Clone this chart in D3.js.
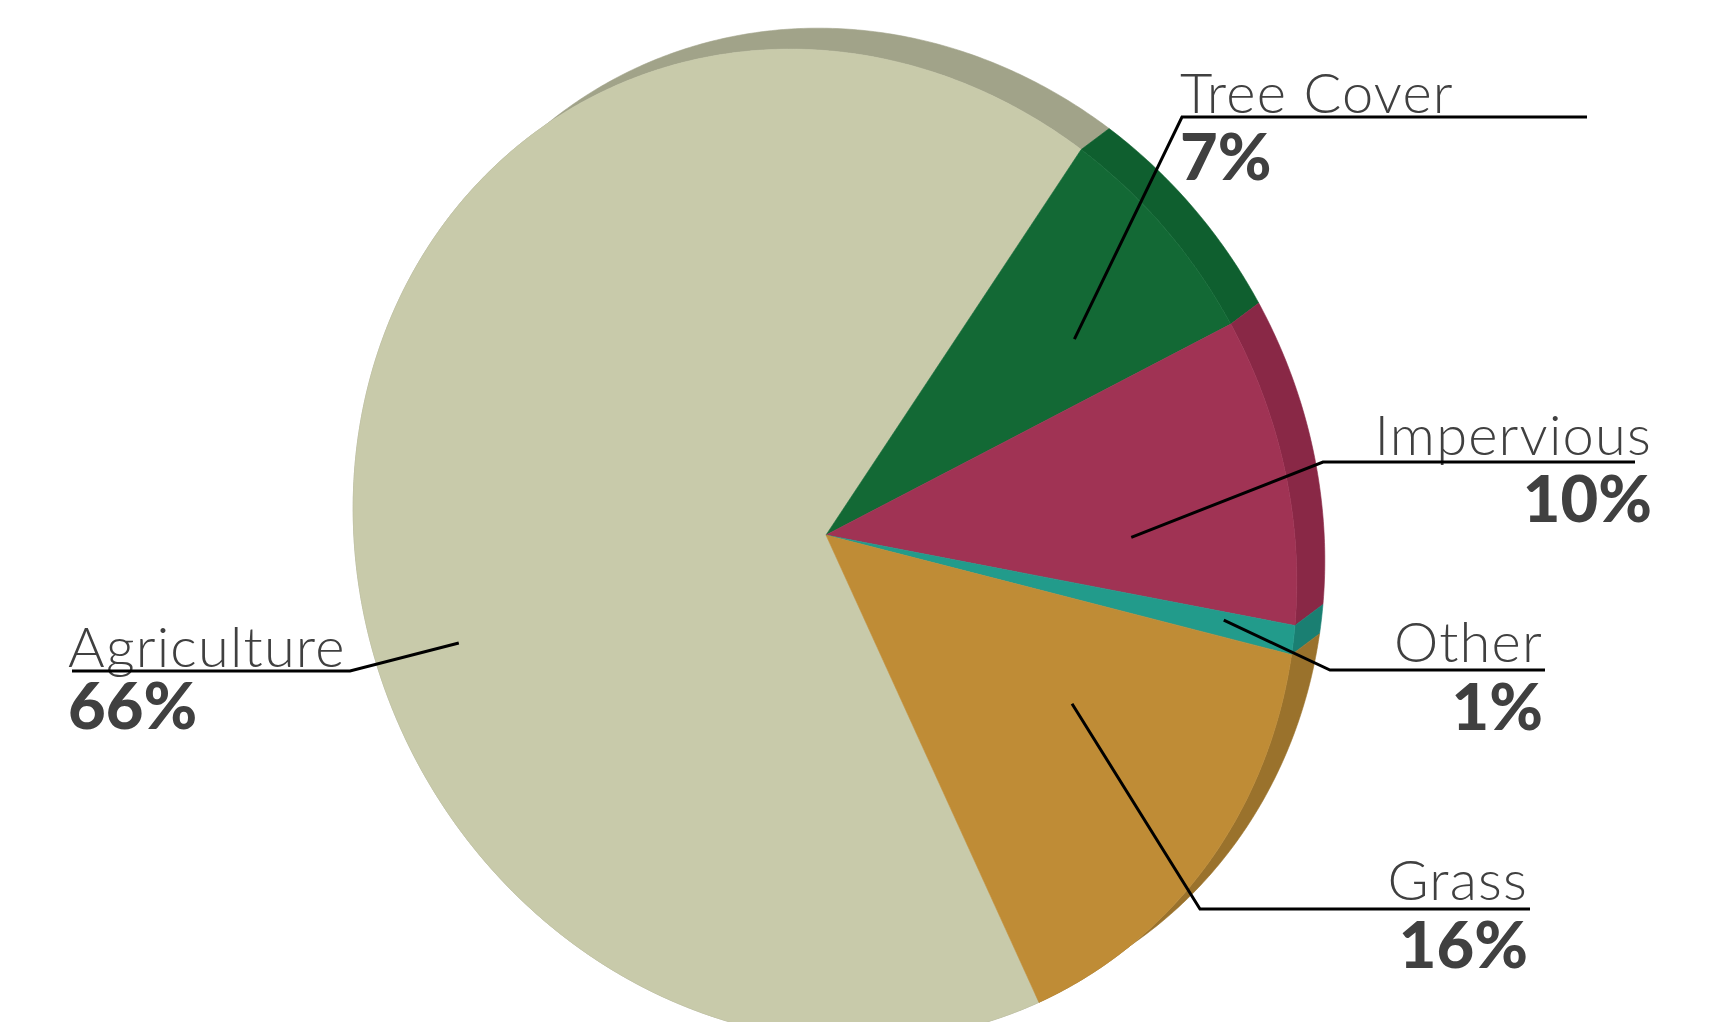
<!DOCTYPE html>
<html>
<head>
<meta charset="utf-8">
<script src="https://cdn.jsdelivr.net/npm/d3@7"></script>
<style>
  body { margin: 0; background: #fff; }
  svg { display: block; }
  .label { font-family: Lato, 'Open Sans', sans-serif; font-weight: 300; font-size: 56px; letter-spacing: 1.2px; fill: #404040; }
  .pct { font-family: Lato, 'Open Sans', sans-serif; font-weight: 900; font-size: 65px; fill: #404040; }
</style>
</head>
<body>
<svg id="chart" width="1723" height="1022"></svg>
<script>
// land cover shares, in drawing order (clockwise)
const categories = ['Agriculture', 'Tree Cover', 'Impervious', 'Other', 'Grass'];
const shares = [66, 7, 10, 1, 16];
const percentLabels = ['66%', '7%', '10%', '1%', '16%'];
const topColors = ['#c8caaa', '#136935', '#a03354', '#229b8b', '#bf8c36'];
const sideColors = ['#a1a389', '#0f5f2f', '#892846', '#1a7f72', '#9a722c'];

// where each callout sits (text anchor, baselines, leader elbow) and where the leader touches its slice
const callouts = [
  { x: 68,   anchor: 'start', labelY: 667, pctY: 729, lineY: 671, elbowX: 350,  endX: 72,   f: 0.39, rho: 0.82 },
  { x: 1180, anchor: 'start', labelY: 113, pctY: 180, lineY: 117, elbowX: 1182, endX: 1587, f: 0.63, rho: 0.69 },
  { x: 1652, anchor: 'end',   labelY: 455, pctY: 522, lineY: 462, elbowX: 1323, endX: 1635, f: 0.71, rho: 0.65 },
  { x: 1543, anchor: 'end',   labelY: 662, pctY: 730, lineY: 670, elbowX: 1330, endX: 1545, f: 0.33, rho: 0.85 },
  { x: 1528, anchor: 'end',   labelY: 900, pctY: 968, lineY: 909, elbowX: 1200, endX: 1530, f: 0.38, rho: 0.60 }
];

// tilted-disc projection: the rim of the disc is an ellipse, its centre lands on the apex
const apex = [826, 535];
const ell = { cx: 825, cy: 545, a: 505, b: 462, rot: 62 * Math.PI / 180 };
const depth = [28, -21];
const firstCut = 33.5 * Math.PI / 180; // on-screen direction of the Agriculture / Tree Cover edge
const skew = { amount: 2.2 * Math.PI / 180, at: 34 * Math.PI / 180 }; // slight angular foreshortening

const cosR = Math.cos(ell.rot), sinR = Math.sin(ell.rot);
function toUnit([x, y]) {
  const dx = x - ell.cx, dy = y - ell.cy;
  return [(dx * cosR + dy * sinR) / ell.a, (-dx * sinR + dy * cosR) / ell.b];
}
function fromUnit([u, v]) {
  const x = u * ell.a, y = v * ell.b;
  return [ell.cx + x * cosR - y * sinR, ell.cy + x * sinR + y * cosR];
}
const pc = toUnit(apex);
const vel = Math.hypot(pc[0], pc[1]);
const psi = Math.atan2(pc[1], pc[0]);
const gam = Math.sqrt(1 - vel * vel);

function project(angle, rho = 1) {
  const t = angle + skew.amount * Math.sin(2 * (angle - skew.at));
  const sx = rho * Math.sin(t), sy = -rho * Math.cos(t);
  // into the ellipse's own frame
  const ex = sx * cosR + sy * sinR, ey = -sx * sinR + sy * cosR;
  const c = Math.cos(psi), s = Math.sin(psi);
  const x1 = ex * c + ey * s, y1 = -ex * s + ey * c;
  const den = 1 + vel * x1;
  const x2 = (x1 + vel) / den, y2 = y1 * gam / den;
  return fromUnit([x2 * c - y2 * s, x2 * s + y2 * c]);
}

function screenAngle(t) {
  const p = project(t);
  return Math.atan2(p[0] - apex[0], -(p[1] - apex[1]));
}
function wrap(a) { return ((a % (2 * Math.PI)) + 3 * Math.PI) % (2 * Math.PI) - Math.PI; }

// find the disc angle that shows up at firstCut
let lo = firstCut - 1.2, hi = firstCut + 1.2;
for (let i = 0; i < 60; i++) {
  const mid = (lo + hi) / 2;
  if (wrap(screenAngle(mid) - firstCut) > 0) hi = mid; else lo = mid;
}
const agriEnd = (lo + hi) / 2;
const total = d3.sum(shares);
const start = agriEnd - 2 * Math.PI * shares[0] / total;

const slices = d3.pie().sort(null).value(d => d)
  .startAngle(start).endAngle(start + 2 * Math.PI)(shares);

function arcPoints(a0, a1, shift = [0, 0]) {
  const n = Math.max(2, Math.ceil((a1 - a0) / (Math.PI / 360)));
  return d3.range(n + 1).map(i => {
    const p = project(a0 + (a1 - a0) * i / n);
    return [p[0] + shift[0], p[1] + shift[1]];
  });
}

const line = d3.line().curve(d3.curveLinearClosed);
const svg = d3.select('#chart');

// side walls first
svg.append('g').selectAll('path')
  .data(slices)
  .join('path')
  .attr('d', d => line(arcPoints(d.startAngle, d.endAngle)
    .concat(arcPoints(d.startAngle, d.endAngle, depth).reverse())))
  .attr('fill', (d, i) => sideColors[i])
  .attr('stroke', (d, i) => sideColors[i])
  .attr('stroke-width', 0.6);

// top faces
svg.append('g').selectAll('path')
  .data(slices)
  .join('path')
  .attr('d', d => line([apex].concat(arcPoints(d.startAngle, d.endAngle))))
  .attr('fill', (d, i) => topColors[i])
  .attr('stroke', (d, i) => topColors[i])
  .attr('stroke-width', 0.6);

// callouts
const g = svg.append('g');
slices.forEach((d, i) => {
  const c = callouts[i];
  const inner = project(d.startAngle + c.f * (d.endAngle - d.startAngle), c.rho);
  g.append('text').attr('class', 'label')
    .attr('x', c.x).attr('y', c.labelY)
    .attr('text-anchor', c.anchor)
    .text(categories[i]);
  g.append('text').attr('class', 'pct')
    .attr('x', c.x).attr('y', c.pctY)
    .attr('text-anchor', c.anchor)
    .text(percentLabels[i]);
  g.append('path')
    .attr('d', d3.line()([inner, [c.elbowX, c.lineY], [c.endX, c.lineY]]))
    .attr('fill', 'none')
    .attr('stroke', '#000')
    .attr('stroke-width', 3);
});
</script>
</body>
</html>
